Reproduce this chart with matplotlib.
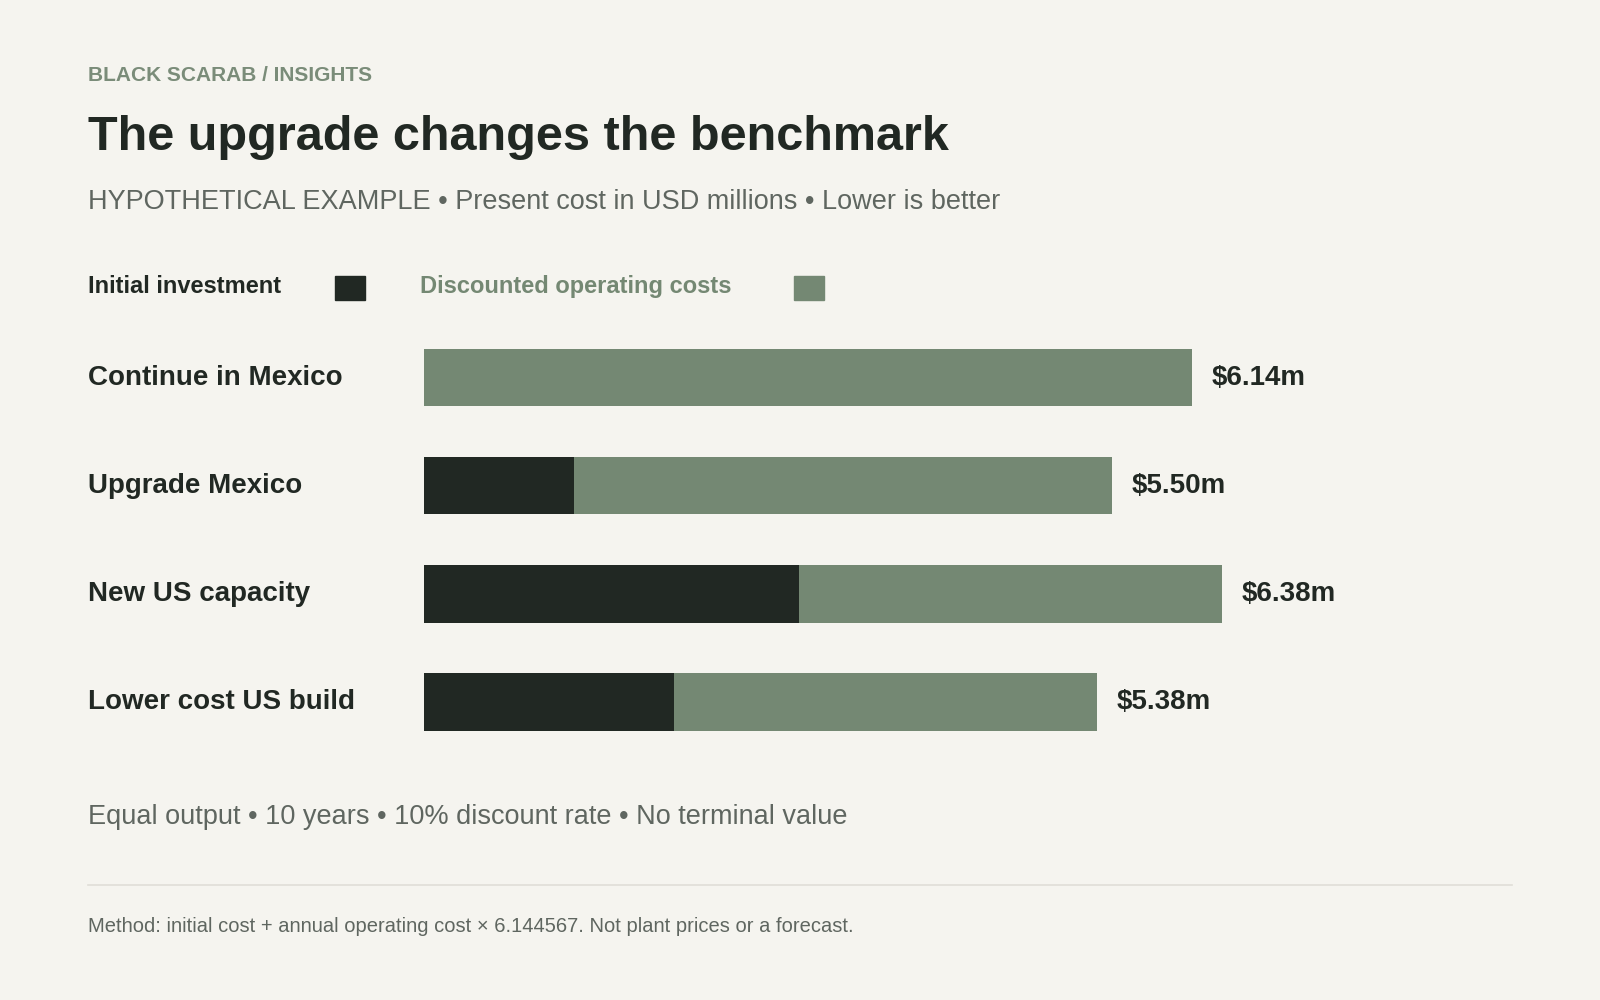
import matplotlib.pyplot as plt
from matplotlib.patches import Rectangle
from matplotlib.lines import Line2D

plt.rcParams['font.family'] = ['Liberation Sans', 'DejaVu Sans']

options = ["Continue in Mexico", "Upgrade Mexico", "New US capacity", "Lower cost US build"]
initial = [0.0, 1.20, 3.00, 2.00]
operating = [6.14, 4.30, 3.38, 3.38]
totals = [6.14, 5.50, 6.38, 5.38]

BG = "#f5f4ef"
DARK = "#212823"
GREEN = "#748873"
GREY = "#5f6660"

W, H = 1568, 980
def fx(x): return x / W
def fy(y): return 1 - y / H

fig = plt.figure(figsize=(16, 10), dpi=100, facecolor=BG)

fig.text(fx(86), fy(74), "BLACK SCARAB / INSIGHTS", color="#7a8c79", fontsize=15,
         fontweight="bold", va="center")
fig.text(fx(86), fy(135), "The upgrade changes the benchmark", color=DARK, fontsize=35,
         fontweight="bold", va="center")
fig.text(fx(86), fy(198), "HYPOTHETICAL EXAMPLE • Present cost in USD millions • Lower is better",
         color=GREY, fontsize=19.5, va="center")

# legend
fig.text(fx(86), fy(281), "Initial investment", color=DARK, fontsize=17, fontweight="bold", va="center")
fig.patches.append(Rectangle((fx(328), fy(294)), fx(30), 24 / H, transform=fig.transFigure,
                             color=DARK))
fig.text(fx(412), fy(281), "Discounted operating costs", color=GREEN, fontsize=17,
         fontweight="bold", va="center")
fig.patches.append(Rectangle((fx(778), fy(294)), fx(30), 24 / H, transform=fig.transFigure,
                             color=GREEN))

ax = fig.add_axes([fx(416), fy(741), fx(1066), 424 / H])
ax.set_facecolor(BG)
y = list(range(len(options)))
ax.barh(y, initial, height=0.53, color=DARK)
ax.barh(y, operating, left=initial, height=0.53, color=GREEN)
for i, t in enumerate(totals):
    ax.text(t + 0.16, i, f"${t:.2f}m", color=DARK, fontsize=20, fontweight="bold", va="center")
    fig.text(fx(86), fy(370 + 106 * i), options[i], color=DARK, fontsize=20,
             fontweight="bold", va="center")
ax.set_xlim(0, 1066 / 122.5)
ax.set_ylim(3.5, -0.5)
ax.axis("off")

fig.text(fx(86), fy(801), "Equal output • 10 years • 10% discount rate • No terminal value",
         color=GREY, fontsize=19.5, va="center")
fig.add_artist(Line2D([fx(86), fx(1482)], [fy(867), fy(867)], color="#e0ded8", lw=1.2))
fig.text(fx(86), fy(908), "Method: initial cost + annual operating cost × 6.144567. Not plant prices or a forecast.",
         color=GREY, fontsize=14.5, va="center")

fig.savefig("out.png", dpi=100, facecolor=BG)
